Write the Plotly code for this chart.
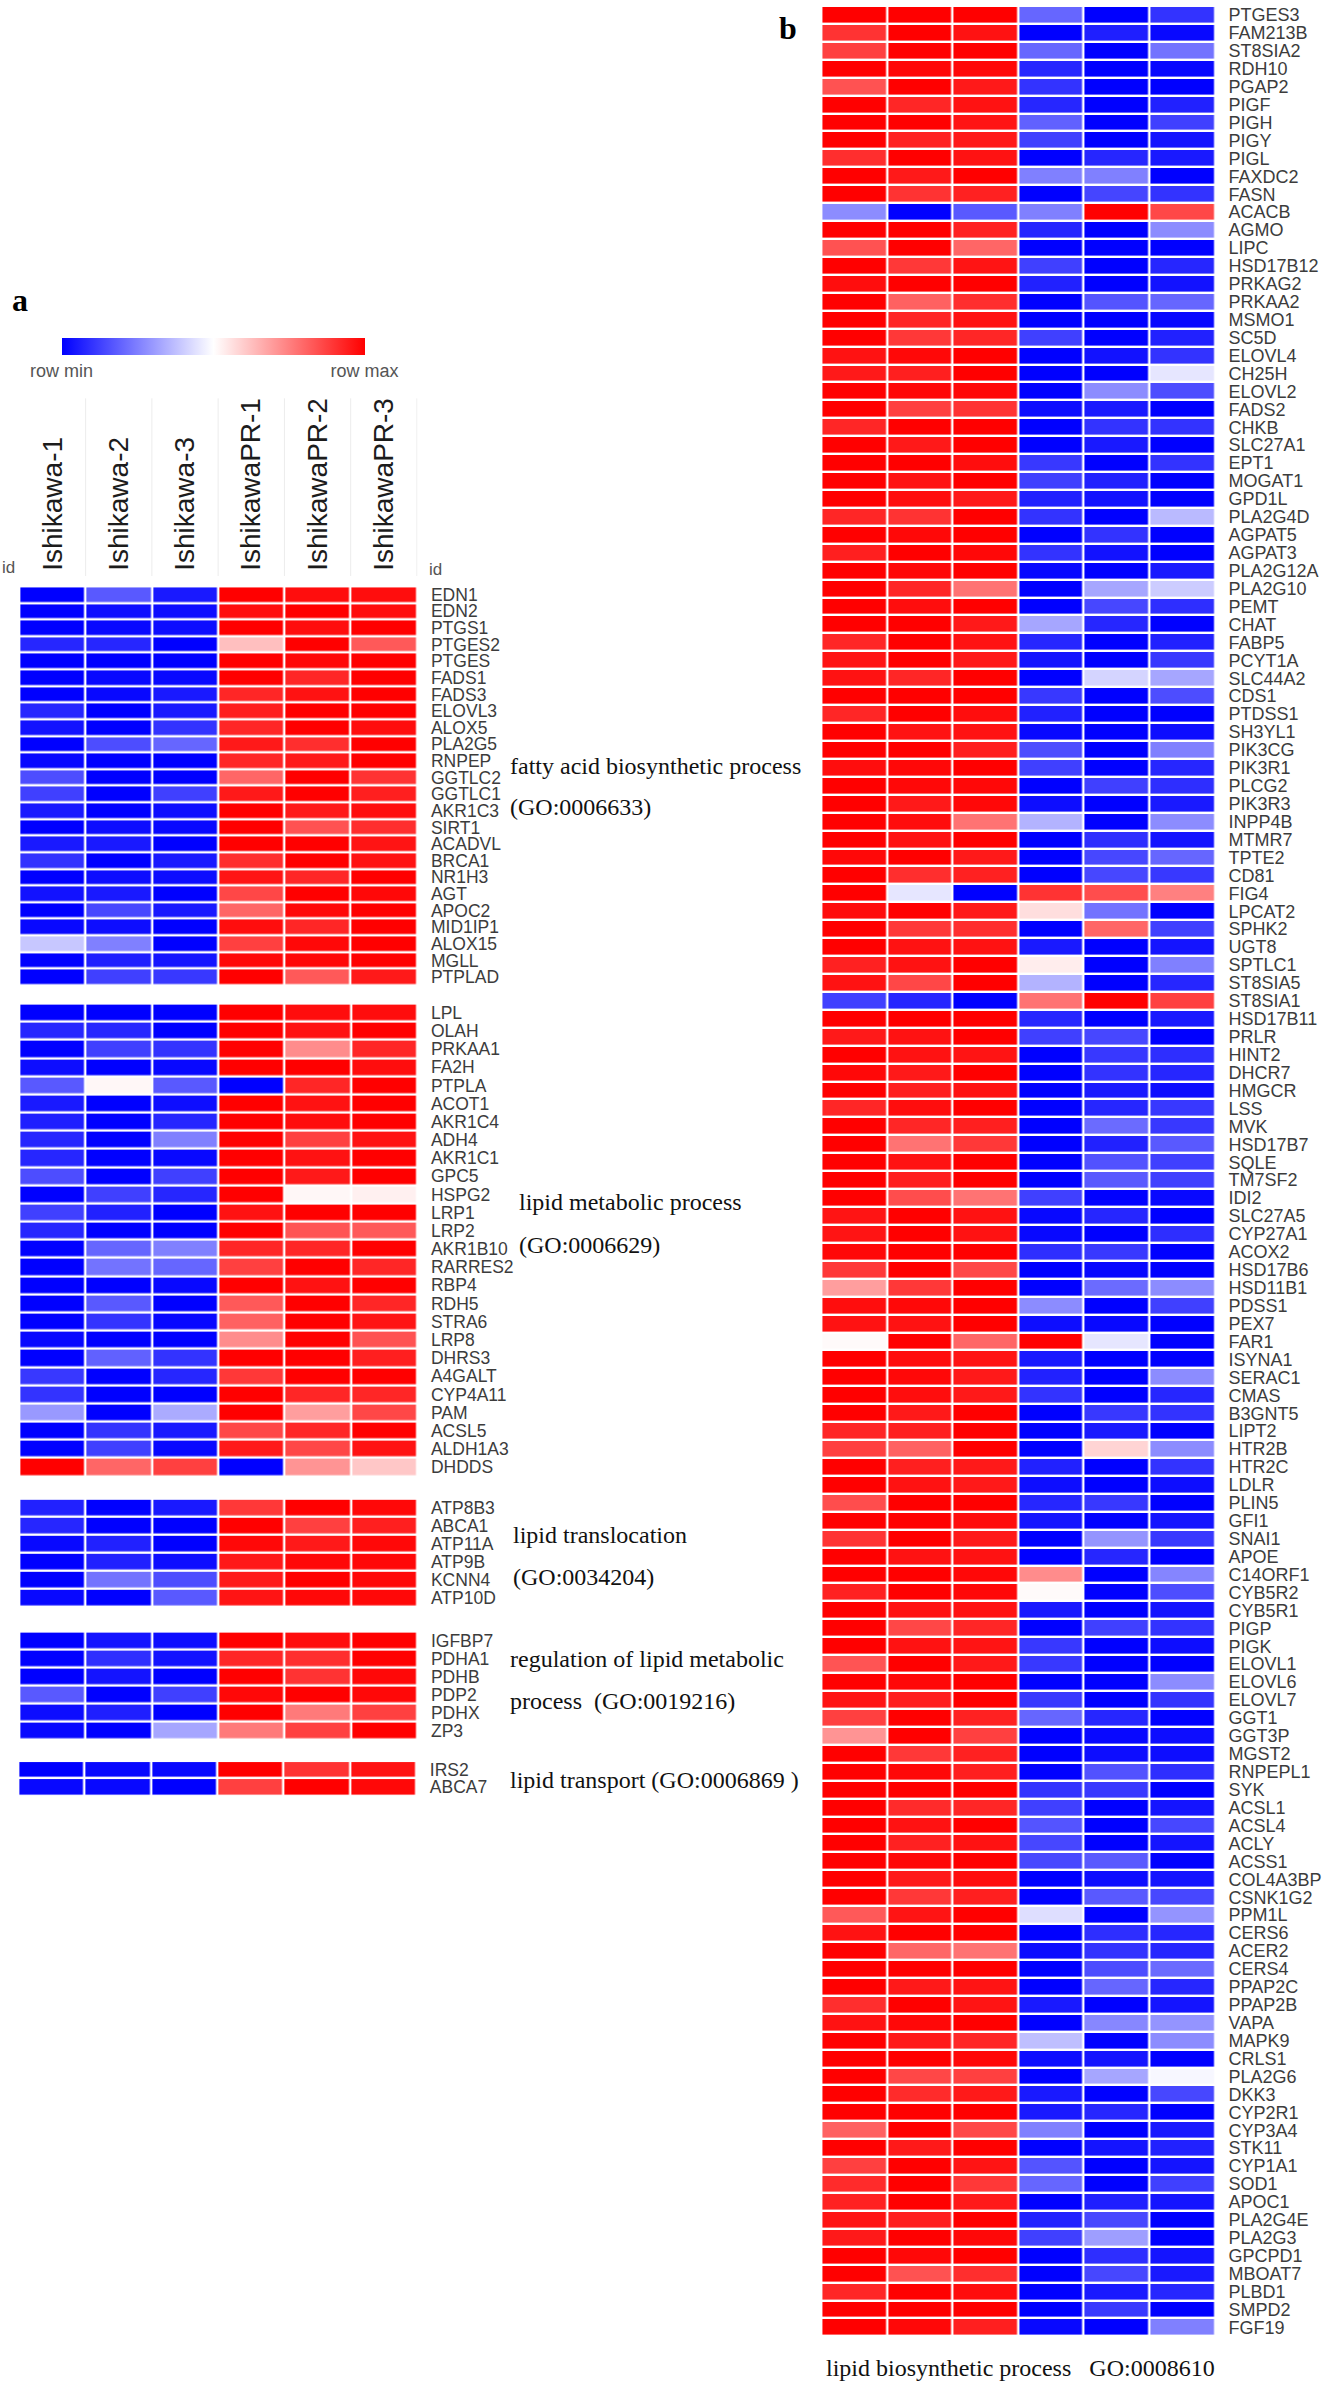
import plotly.graph_objects as go

W, H = 1322, 2386

columns_a = ["Ishikawa-1", "Ishikawa-2", "Ishikawa-3", "IshikawaPR-1", "IshikawaPR-2", "IshikawaPR-3"]

genes_fatty = ["EDN1","EDN2","PTGS1","PTGES2","PTGES","FADS1","FADS3","ELOVL3","ALOX5","PLA2G5","RNPEP","GGTLC2",
               "GGTLC1","AKR1C3","SIRT1","ACADVL","BRCA1","NR1H3","AGT","APOC2","MID1IP1","ALOX15","MGLL","PTPLAD"]
values_fatty = [
 [-1,-.65,-.9,1,.95,.95],[-1,-.95,-.95,.95,1,.95],[-1,-.97,-.95,1,.95,1],[-.85,-.85,-1,.25,1,.65],
 [-1,-1,-1,1,.97,1],[-1,-.97,-.97,1,.85,1],[-1,-.97,-.9,.85,.93,1],[-.85,-1,-.9,.88,1,1],
 [-.93,-1,-.8,.85,1,.95],[-1,-.7,-.6,.9,.82,1],[-.97,-1,-1,.85,.9,1],[-.7,-1,-1,.6,1,.8],
 [-.75,-1,-.75,.9,1,.88],[-.9,-1,-.95,1,.9,.95],[-1,-.95,-.97,1,.68,.82],[-.9,-.9,-1,1,1,.92],
 [-.8,-1,-.9,.82,1,.93],[-1,-.95,-.95,.92,.85,1],[-.93,-.9,-1,.72,1,.97],[-1,-.72,-.9,.6,.97,1],
 [-.97,-.95,-1,.95,.85,1],[-.22,-.5,-1,.75,.97,1],[-1,-.88,-.92,.97,.97,1],[-1,-.75,-.78,1,.65,.9],
]

genes_metabolic = ["LPL","OLAH","PRKAA1","FA2H","PTPLA","ACOT1","AKR1C4","ADH4","AKR1C1","GPC5","HSPG2","LRP1","LRP2",
                   "AKR1B10","RARRES2","RBP4","RDH5","STRA6","LRP8","DHRS3","A4GALT","CYP4A11","PAM","ACSL5","ALDH1A3","DHDDS"]
values_metabolic = [
 [-1,-1,-1,1,.95,.95],[-.85,-.85,-1,1,.93,1],[-1,-.75,-.8,1,.45,.85],[-.95,-1,-.97,1,1,.95],
 [-.65,.03,-.65,-1,.85,1],[-.9,-1,-.95,1,.93,1],[-.88,-1,-.85,1,.95,1],[-.85,-1,-.5,1,.75,.93],
 [-.85,-1,-.97,1,.93,1],[-.7,-1,-.75,1,.9,1],[-1,-.75,-.85,1,.03,.06],[-.75,-.87,-1,.93,1,1],
 [-.85,-1,-1,1,.67,.65],[-1,-.6,-.5,.85,.85,1],[-1,-.55,-.6,.75,1,.85],[-1,-1,-.97,1,.93,1],
 [-1,-.65,-1,.65,1,.85],[-1,-.8,-.97,.62,1,.92],[-.97,-1,-1,.45,1,.68],[-1,-.62,-.8,1,1,.88],
 [-.78,-1,-.85,.78,1,1],[-.8,-1,-1,1,.85,.85],[-.4,-1,-.33,1,.38,.72],[-1,-.8,-.9,.72,.85,1],
 [-1,-.75,-.97,.9,.72,.93],[1,.6,.75,-1,.42,.22],
]

genes_translocation = ["ATP8B3","ABCA1","ATP11A","ATP9B","KCNN4","ATP10D"]
values_translocation = [
 [-.87,-1,-.9,.78,1,.97],[-.85,-1,-1,1,.75,.88],[-.97,-.87,-1,.97,.9,.97],
 [-1,-.87,-.95,.9,.97,.97],[-1,-.55,-.7,.9,1,.97],[-.97,-1,-.65,.92,.97,.97],
]

genes_regulation = ["IGFBP7","PDHA1","PDHB","PDP2","PDHX","ZP3"]
values_regulation = [
 [-1,-.92,-.95,1,.95,1],[-1,-.82,-.93,.85,.82,1],[-1,-.92,-1,1,.8,.97],
 [-.65,-1,-.75,.97,1,.97],[-.95,-.88,-1,1,.52,.75],[-.97,-1,-.35,.52,.75,1],
]

genes_transport = ["IRS2","ABCA7"]
values_transport = [[-1,-.97,-.97,1,.8,.93],[-.97,-.97,-1,.75,1,.97]]

genes_biosynthetic = ["PTGES3","FAM213B","ST8SIA2","RDH10","PGAP2","PIGF","PIGH","PIGY","PIGL","FAXDC2","FASN","ACACB","AGMO",
 "LIPC","HSD17B12","PRKAG2","PRKAA2","MSMO1","SC5D","ELOVL4","CH25H","ELOVL2","FADS2","CHKB","SLC27A1","EPT1","MOGAT1","GPD1L",
 "PLA2G4D","AGPAT5","AGPAT3","PLA2G12A","PLA2G10","PEMT","CHAT","FABP5","PCYT1A","SLC44A2","CDS1","PTDSS1","SH3YL1","PIK3CG",
 "PIK3R1","PLCG2","PIK3R3","INPP4B","MTMR7","TPTE2","CD81","FIG4","LPCAT2","SPHK2","UGT8","SPTLC1","ST8SIA5","ST8SIA1","HSD17B11",
 "PRLR","HINT2","DHCR7","HMGCR","LSS","MVK","HSD17B7","SQLE","TM7SF2","IDI2","SLC27A5","CYP27A1","ACOX2","HSD17B6","HSD11B1",
 "PDSS1","PEX7","FAR1","ISYNA1","SERAC1","CMAS","B3GNT5","LIPT2","HTR2B","HTR2C","LDLR","PLIN5","GFI1","SNAI1","APOE","C14ORF1",
 "CYB5R2","CYB5R1","PIGP","PIGK","ELOVL1","ELOVL6","ELOVL7","GGT1","GGT3P","MGST2","RNPEPL1","SYK","ACSL1","ACSL4","ACLY","ACSS1",
 "COL4A3BP","CSNK1G2","PPM1L","CERS6","ACER2","CERS4","PPAP2C","PPAP2B","VAPA","MAPK9","CRLS1","PLA2G6","DKK3","CYP2R1","CYP3A4",
 "STK11","CYP1A1","SOD1","APOC1","PLA2G4E","PLA2G3","GPCPD1","MBOAT7","PLBD1","SMPD2","FGF19"]
values_biosynthetic = [
 [1,1,1,-.6,-1,-.8],[.8,1,.93,-1,-.88,-.97],[.75,1,1,-.6,-1,-.55],[1,.97,.97,-.85,-1,-.97],[.68,1,.9,-.8,-1,-1],
 [1,.85,.93,-.85,-1,-.87],[1,1,.92,-.62,-1,-.75],[1,.87,.9,-.75,-1,-.92],[.82,1,.93,-1,-.85,-.9],[1,.9,1,-.5,-.5,-1],
 [1,.8,.87,-1,-.73,-.8],[-.45,-1,-.65,-.5,1,.72],[1,1,.87,-.85,-1,-.45],[.68,1,.6,-1,-1,-1],[1,.78,.92,-.75,-1,-.85],
 [.95,1,1,-.87,-1,-.93],[1,.62,.82,-1,-.67,-.6],[1,.85,.93,-1,-1,-.97],[1,.78,.85,-.75,-1,-.87],[.93,.97,1,-1,-.93,-.8],
 [.9,.88,1,-1,-1,-.1],[1,.97,.97,-1,-.45,-.7],[1,.75,.8,-.95,-.9,-1],[.85,1,1,-1,-.8,-.8],[1,.9,1,-1,-.9,-1],
 [1,1,.95,-.78,-1,-.8],[1,.93,1,-.75,-.87,-1],[1,.95,.9,-.87,-.93,-1],[.85,.8,1,-.8,-1,-.27],[1,.97,1,-1,-.8,-1],
 [.88,1,.97,-.8,-.93,-1],[1,.97,1,-.97,-1,-.9],[1,.85,.55,-1,-.35,-.2],[1,.95,1,-1,-.72,-.82],[1,1,.9,-.35,-.85,-1],
 [.85,1,.93,-.85,-1,-.87],[.92,1,.9,-.92,-1,-.78],[.93,.85,1,-1,-.17,-.35],[1,1,1,-.78,-1,-.7],[.85,1,.95,-.87,-1,-1],
 [1,.93,.93,-.97,-1,-.95],[1,1,.88,-.7,-1,-.5],[.95,.97,1,-.75,-1,-.85],[1,.97,.97,-1,-.75,-.82],[1,.9,.97,-.95,-1,-.9],
 [1,.95,.55,-.3,-1,-.45],[1,.93,1,-1,-.82,-.92],[.97,1,.9,-1,-.72,-.6],[1,.82,.87,-1,-.72,-.78],[1,-.1,-1,.8,.7,.5],
 [.95,1,.9,.13,-.55,-1],[1,.78,.82,-1,.6,-.75],[1,.93,.93,-.9,-1,-.92],[.87,.93,1,.07,-1,-.5],[.93,.72,1,-.3,-1,-.85],
 [-.75,-.85,-1,.55,1,.75],[1,1,1,-.85,-1,-.9],[.9,.93,1,-.75,-.72,-1],[1,.93,.92,-1,-.78,-.82],[.97,.9,1,-1,-.8,-.85],
 [1,.88,.93,-1,-.9,-.95],[.85,.95,1,-1,-.85,-.78],[1,.85,.88,-1,-.58,-.78],[1,.55,.78,-1,-.87,-.65],[1,.93,1,-1,-.68,-.75],
 [1,.88,1,-1,-.65,-.75],[1,.7,.55,-.75,-1,-.97],[.92,1,.93,-.97,-.85,-1],[.92,1,.93,-.97,-1,-.82],[.97,1,1,-.82,-.78,-1],
 [.78,1,.72,-1,-.97,-1],[.38,.78,1,-1,-.58,-.45],[.95,.97,1,-.45,-1,-.75],[.93,.93,1,-.95,-.97,-1],[.02,1,.6,1,-.1,-1],
 [1,.95,.92,-.9,-1,-1],[1,.97,.9,-.87,-1,-.45],[1,.95,.9,-.8,-1,-.85],[1,.9,1,-1,-.78,-.8],[.85,.88,1,-1,-.9,-1],
 [.75,.62,1,-1,.17,-.45],[1,.88,.9,-.87,-1,-.8],[1,.93,.9,-.95,-1,-.95],[.7,1,1,-.85,-.78,-1],[1,1,.95,-.92,-1,-.92],
 [.8,1,.9,-1,-.42,-.78],[1,.93,.93,-1,-.85,-1],[1,1,.97,.45,-1,-.48],[.87,1,.97,.02,-1,-.7],[1,.93,.93,-.9,-1,-.92],
 [1,.72,.85,-1,-.75,-.8],[1,.93,.92,-.78,-1,-.95],[.67,1,.9,-.78,-1,-1],[1,.97,1,-1,-1,-.45],[.92,.88,1,-.78,-1,-.8],
 [.75,1,.87,-.6,-.85,-1],[.42,1,.75,-1,-.97,-.95],[1,.78,.87,-1,-.95,-.95],[1,.97,.88,-1,-.68,-.82],[1,1,1,-.8,-.78,-1],
 [1,.83,.85,-.75,-1,-.92],[1,.93,1,-.67,-1,-.72],[1,.87,.93,-.72,-1,-.92],[1,.97,1,-.72,-.65,-1],[1,.9,.95,-1,-.95,-.92],
 [1,.78,.88,-1,-.65,-.72],[.65,.92,1,-.13,-1,-.42],[.93,1,1,-1,-.82,-.85],[1,.6,.55,-.95,-.8,-.85],[1,1,1,-1,-.7,-.58],
 [1,.9,.92,-1,-.6,-.85],[.82,1,.92,-.9,-1,-.92],[.93,.97,1,-1,-.47,-.42],[1,.9,.85,-.25,-1,-.45],[1,1,.97,-.95,-.92,-1],
 [1,.72,.75,-1,-.35,-.03],[1,.83,.9,-.9,-1,-.72],[1,1,1,-.9,-.85,-1],[.62,1,.72,-.5,-1,-.9],[1,.9,1,-1,-.92,-.87],
 [.75,1,.92,-.67,-1,-.92],[.83,1,.78,-.6,-1,-.75],[.87,1,.9,-1,-.88,-.92],[.92,.88,1,-.87,-.72,-1],[.9,1,.97,-.75,-.38,-1],
 [1,.97,1,-1,-.82,-.92],[1,.68,.82,-1,-.72,-.9],[.85,1,.95,-1,-.9,-.85],[1,1,1,-1,-.78,-1],[1,.97,.88,-.97,-1,-.5],
]

# pixel box (left, right, top, bottom) of each block in the 1322x2386 page
blocks = [
    (genes_fatty, values_fatty, (19.4, 418.4, 585.4, 985)),
    (genes_metabolic, values_metabolic, (19.4, 418.4, 1003.3, 1476.7)),
    (genes_translocation, values_translocation, (19.4, 418.4, 1499.3, 1607.7)),
    (genes_regulation, values_regulation, (19.4, 418.4, 1632.3, 1740.3)),
    (genes_transport, values_transport, (18.4, 417.3, 1762, 1797)),
    (genes_biosynthetic, values_biosynthetic, (823.3, 1217.7, 4, 2338.3)),
]

fig = go.Figure()
for i, (genes, vals, (l, r, t, b)) in enumerate(blocks, start=1):
    sfx = "" if i == 1 else str(i)
    fig.add_trace(go.Heatmap(z=vals, x=columns_a, y=genes, coloraxis="coloraxis", xgap=2.4, ygap=2.4,
                             xaxis="x" + sfx, yaxis="y" + sfx, hoverongaps=False))
    first = i == 1
    fig.layout["xaxis" + sfx] = dict(
        domain=[l / W, r / W], anchor="y" + sfx, side="top", type="category",
        showticklabels=first, tickangle=-90, ticks="outside" if first else "", ticklen=9, tickcolor="rgba(0,0,0,0)",
        tickfont=dict(family="Liberation Sans", size=28, color="#1c1c1c"), showgrid=False, zeroline=False, showline=False,
        tickmode="array", tickvals=columns_a, ticktext=columns_a)
    fig.layout["yaxis" + sfx] = dict(
        domain=[1 - b / H, 1 - t / H], anchor="x" + sfx, side="right", type="category", autorange="reversed",
        ticks="outside", ticklen=9, tickcolor="rgba(0,0,0,0)", tickmode="array", tickvals=genes, ticktext=genes,
        tickfont=dict(family="Liberation Sans", size=18 if i == 6 else 17.5, color="#3c3c3c"),
        showgrid=False, zeroline=False, showline=False)

# faint header separators at the column edges
for pos in [0.5, 1.5, 2.5, 3.5, 4.5, 5.5]:
    fig.add_shape(type="line", xref="x", yref="paper", x0=pos, x1=pos, y0=1 - 575 / H, y1=1 - 397 / H,
                  line=dict(color="#ececec", width=1))

serif = dict(family="Liberation Serif", size=24, color="#111111")
notes = [
    ("fatty acid biosynthetic process", 510, 765), ("(GO:0006633)", 510, 806),
    ("lipid metabolic process", 519, 1202), ("(GO:0006629)", 519, 1245),
    ("lipid translocation", 513, 1536), ("(GO:0034204)", 513, 1578),
    ("regulation of lipid metabolic", 510, 1660), ("process  (GO:0019216)", 510, 1702),
    ("lipid transport (GO:0006869 )", 510, 1781),
    ("lipid biosynthetic process   GO:0008610", 827, 2370),
]
for text, x, y in notes:
    fig.add_annotation(text=text, xref="paper", yref="paper", x=x / W, y=1 - y / H, xanchor="left", yanchor="middle",
                       showarrow=False, font=serif, xshift=0, borderpad=0)
for text, x, y in [("a", 11, 298), ("b", 780, 26)]:
    fig.add_annotation(text="<b>%s</b>" % text, xref="paper", yref="paper", x=x / W, y=1 - y / H, xanchor="left",
                       yanchor="middle", showarrow=False, borderpad=0,
                       font=dict(family="Liberation Serif", size=32, color="#000000"))
for x, y in [(1, 566), (429, 568)]:
    fig.add_annotation(text="id", xref="paper", yref="paper", x=x / W, y=1 - y / H, xanchor="left", yanchor="middle",
                       showarrow=False, borderpad=0, font=dict(family="Liberation Sans", size=17, color="#555555"))

fig.update_layout(
    width=W, height=H, margin=dict(l=0, r=0, t=0, b=0), paper_bgcolor="white", plot_bgcolor="white", showlegend=False,
    coloraxis=dict(
        cmin=-1, cmax=1, colorscale=[[0, "#0000ff"], [0.5, "#ffffff"], [1, "#ff0000"]],
        colorbar=dict(orientation="h", lenmode="pixels", len=303, thicknessmode="pixels", thickness=17,
                      x=213.5 / W, xanchor="center", y=1 - 337 / H, yanchor="top", xpad=0, ypad=0,
                      tickmode="array", tickvals=[-1, 1], ticktext=["row min", "row max"], ticks="", ticklabelposition="outside bottom",
                      outlinewidth=0, tickfont=dict(family="Liberation Sans", size=18, color="#555555"))))

fig.write_html("out.html", post_script="document.body.style.margin='0';", config={"displayModeBar": False})
